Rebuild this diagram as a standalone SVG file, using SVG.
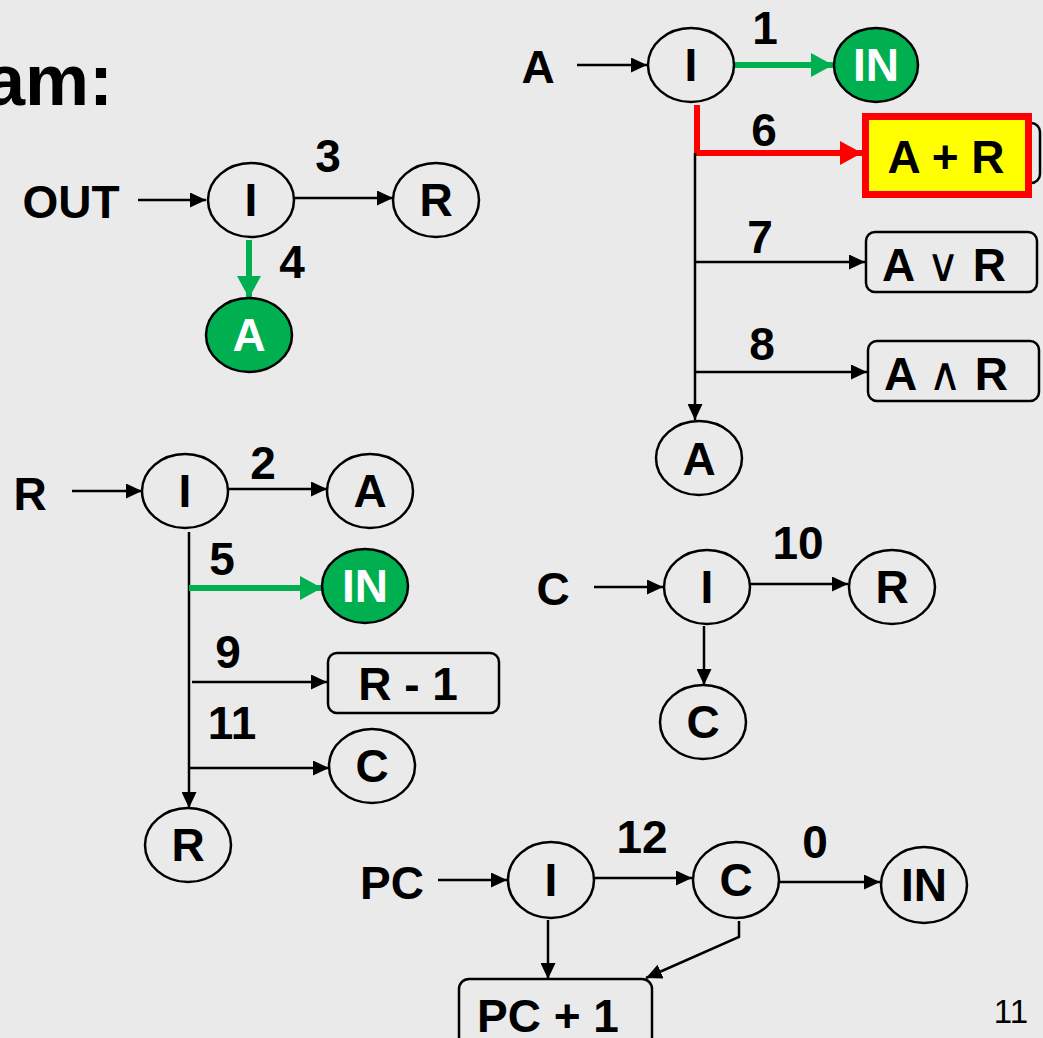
<svg xmlns="http://www.w3.org/2000/svg" width="1043" height="1038" viewBox="0 0 1043 1038">
<defs>
<style>
.t{font-family:"Liberation Sans",Arial,sans-serif;font-weight:bold;font-size:46px;fill:#000;text-anchor:middle}
.w{fill:#fff}
.n{fill:none;stroke:#000;stroke-width:2.5}
.g{fill:#00B050;stroke:#000;stroke-width:2.5}
.bx{fill:none;stroke:#000;stroke-width:2.5}
.c{fill:none;stroke:#000;stroke-width:2.5}
.cg{fill:none;stroke:#00B050;stroke-width:6}
.cr{fill:none;stroke:#FF0000;stroke-width:6}
.sym{font-family:"DejaVu Sans",sans-serif;font-weight:normal;font-size:46px}
</style>
<marker id="ab" markerUnits="userSpaceOnUse" viewBox="0 0 16 15" markerWidth="16" markerHeight="15" refX="16" refY="7.5" orient="auto"><path d="M0,0 L16,7.5 L0,15 z" fill="#000"/></marker>
<marker id="ag" markerUnits="userSpaceOnUse" viewBox="0 0 22 24" markerWidth="22" markerHeight="24" refX="22" refY="12" orient="auto"><path d="M0,0 L22,12 L0,24 z" fill="#00B050"/></marker>
<marker id="ar" markerUnits="userSpaceOnUse" viewBox="0 0 22 24" markerWidth="22" markerHeight="24" refX="22" refY="12" orient="auto"><path d="M0,0 L22,12 L0,24 z" fill="#FF0000"/></marker>
</defs>
<rect width="1043" height="1038" fill="#EAEAEA"/>
<text x="113" y="105" class="t" style="font-size:72px;text-anchor:end">am:</text>
<text x="1028" y="1023" style="font-family:'Liberation Sans',Arial,sans-serif;font-size:33px;text-anchor:end">11</text>

<g id="connectors">
<line x1="138" y1="200" x2="206" y2="200" class="c" marker-end="url(#ab)"/>
<line x1="294" y1="198" x2="393" y2="198" class="c" marker-end="url(#ab)"/>
<line x1="249" y1="240" x2="249" y2="298" class="cg" marker-end="url(#ag)"/>
<line x1="577" y1="65" x2="647" y2="65" class="c" marker-end="url(#ab)"/>
<line x1="734" y1="65" x2="833" y2="65" class="cg" marker-end="url(#ag)"/>
<path d="M697,105 V153 H862" class="cr" marker-end="url(#ar)"/>
<line x1="695" y1="153" x2="695" y2="420" class="c" marker-end="url(#ab)"/>
<line x1="695" y1="262" x2="865" y2="262" class="c" marker-end="url(#ab)"/>
<line x1="695" y1="372" x2="867" y2="372" class="c" marker-end="url(#ab)"/>
<line x1="72" y1="491" x2="142" y2="491" class="c" marker-end="url(#ab)"/>
<line x1="228" y1="489" x2="327" y2="489" class="c" marker-end="url(#ab)"/>
<line x1="189" y1="532" x2="189" y2="808" class="c" marker-end="url(#ab)"/>
<line x1="189" y1="588" x2="322" y2="588" class="cg" marker-end="url(#ag)"/>
<line x1="192" y1="682" x2="327" y2="682" class="c" marker-end="url(#ab)"/>
<line x1="189" y1="768" x2="329" y2="768" class="c" marker-end="url(#ab)"/>
<line x1="594" y1="587" x2="663" y2="587" class="c" marker-end="url(#ab)"/>
<line x1="750" y1="584" x2="848" y2="584" class="c" marker-end="url(#ab)"/>
<line x1="704" y1="626" x2="704" y2="685" class="c" marker-end="url(#ab)"/>
<line x1="438" y1="880" x2="507" y2="880" class="c" marker-end="url(#ab)"/>
<line x1="595" y1="878" x2="692" y2="878" class="c" marker-end="url(#ab)"/>
<line x1="779" y1="882" x2="880" y2="882" class="c" marker-end="url(#ab)"/>
<line x1="548" y1="920" x2="548" y2="979" class="c" marker-end="url(#ab)"/>
<path d="M739,921 V937 L646,978" class="c" marker-end="url(#ab)"/>
</g>

<g id="labels">
<text x="328" y="172" class="t">3</text>
<text x="292" y="278" class="t">4</text>
<text x="765" y="44" class="t">1</text>
<text x="764" y="146" class="t">6</text>
<text x="760" y="253" class="t">7</text>
<text x="762" y="360" class="t">8</text>
<text x="263" y="479" class="t">2</text>
<text x="222" y="575" class="t">5</text>
<text x="228" y="668" class="t">9</text>
<text x="232" y="739" class="t">11</text>
<text x="798" y="559" class="t">10</text>
<text x="642" y="853" class="t">12</text>
<text x="815" y="858" class="t">0</text>
</g>

<g id="out-src"><text x="71" y="218" class="t">OUT</text></g>
<g id="out-i"><ellipse cx="251" cy="200" rx="43" ry="37" class="n"/><text x="251" y="216" class="t">I</text></g>
<g id="out-r"><ellipse cx="436" cy="200" rx="43" ry="37" class="n"/><text x="436" y="216" class="t">R</text></g>
<g id="out-a"><ellipse cx="249" cy="335" rx="43" ry="37" class="g"/><text x="249" y="351" class="t w">A</text></g>

<g id="a-src"><text x="538" y="83" class="t">A</text></g>
<g id="a-i"><ellipse cx="691" cy="65" rx="43" ry="37" class="n"/><text x="691" y="81" class="t">I</text></g>
<g id="a-in"><ellipse cx="876" cy="65" rx="42" ry="37" class="g"/><text x="876" y="81" class="t w">IN</text></g>
<g id="a-plus-r">
<rect x="866" y="123" width="174" height="60" rx="9" class="bx"/>
<rect x="865.5" y="116.5" width="163" height="78" fill="#FFFF00" stroke="#FF0000" stroke-width="7"/>
<text x="946" y="173" class="t">A + R</text>
</g>
<g id="a-or-r"><rect x="866" y="232" width="171" height="60" rx="9" class="bx"/><text x="944" y="281" class="t">A <tspan class="sym">∨</tspan> R</text></g>
<g id="a-and-r"><rect x="868" y="341" width="171" height="60" rx="9" class="bx"/><text x="946" y="390" class="t">A <tspan class="sym">∧</tspan> R</text></g>
<g id="a-a"><ellipse cx="699" cy="458" rx="43" ry="37" class="n"/><text x="699" y="475" class="t">A</text></g>

<g id="r-src"><text x="30" y="510" class="t">R</text></g>
<g id="r-i"><ellipse cx="185" cy="491" rx="43" ry="37" class="n"/><text x="185" y="507" class="t">I</text></g>
<g id="r-a"><ellipse cx="370" cy="491" rx="43" ry="37" class="n"/><text x="370" y="507" class="t">A</text></g>
<g id="r-in"><ellipse cx="365" cy="586" rx="43" ry="37" class="g"/><text x="365" y="602" class="t w">IN</text></g>
<g id="r-minus-1"><rect x="328" y="653" width="171" height="60" rx="9" class="bx"/><text x="408" y="700" class="t">R - 1</text></g>
<g id="r-c"><ellipse cx="372" cy="766" rx="43" ry="37" class="n"/><text x="372" y="782" class="t">C</text></g>
<g id="r-r"><ellipse cx="188" cy="845" rx="43" ry="37" class="n"/><text x="188" y="861" class="t">R</text></g>

<g id="c-src"><text x="553" y="605" class="t">C</text></g>
<g id="c-i"><ellipse cx="707" cy="587" rx="43" ry="37" class="n"/><text x="707" y="603" class="t">I</text></g>
<g id="c-r"><ellipse cx="892" cy="587" rx="43" ry="37" class="n"/><text x="892" y="603" class="t">R</text></g>
<g id="c-c"><ellipse cx="703" cy="722" rx="43" ry="37" class="n"/><text x="703" y="738" class="t">C</text></g>

<g id="pc-src"><text x="392" y="899" class="t">PC</text></g>
<g id="pc-i"><ellipse cx="551" cy="880" rx="43" ry="38" class="n"/><text x="551" y="896" class="t">I</text></g>
<g id="pc-c"><ellipse cx="736" cy="880" rx="43" ry="38" class="n"/><text x="736" y="896" class="t">C</text></g>
<g id="pc-in"><ellipse cx="924" cy="885" rx="43" ry="38" class="n"/><text x="924" y="901" class="t">IN</text></g>
<g id="pc-plus-1"><rect x="459" y="979" width="193" height="70" rx="10" class="bx"/><text x="548" y="1032" class="t">PC + 1</text></g>
</svg>
